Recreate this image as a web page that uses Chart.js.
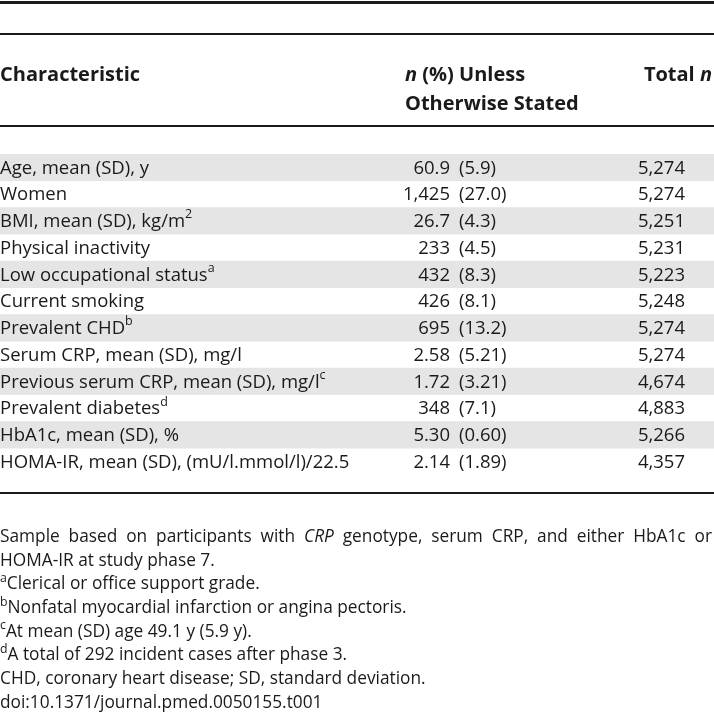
<!DOCTYPE html>
<html lang="en">
<head>
<meta charset="UTF-8">
<title>Characteristics of participants</title>
<script src="https://cdn.jsdelivr.net/npm/chart.js"></script>
<style>
  body { margin: 0; background: #fff; }
</style>
</head>
<body>
<canvas id="chart" width="714" height="713"></canvas>
<script>
// rows of the table, top to bottom
const characteristics = [
  'Age, mean (SD), y', 'Women', 'BMI, mean (SD), kg/m', 'Physical inactivity',
  'Low occupational status', 'Current smoking', 'Prevalent CHD',
  'Serum CRP, mean (SD), mg/l', 'Previous serum CRP, mean (SD), mg/l',
  'Prevalent diabetes', 'HbA1c, mean (SD), %', 'HOMA-IR, mean (SD), (mU/l.mmol/l)/22.5'
];
const superscripts = ['', '', '2', '', 'a', '', 'b', '', 'c', 'd', '', ''];
const estimates = ['60.9', '1,425', '26.7', '233', '432', '426', '695', '2.58', '1.72', '348', '5.30', '2.14'];
const spreads = ['(5.9)', '(27.0)', '(4.3)', '(4.5)', '(8.3)', '(8.1)', '(13.2)', '(5.21)', '(3.21)', '(7.1)', '(0.60)', '(1.89)'];
const totals = ['5,274', '5,274', '5,251', '5,231', '5,223', '5,248', '5,274', '5,274', '4,674', '4,883', '5,266', '4,357'];

// footnotes: ^x = superscript, _text_ = italic
const footnotes = [
  'Sample based on participants with _CRP_ genotype, serum CRP, and either HbA1c or',
  'HOMA-IR at study phase 7.',
  '^aClerical or office support grade.',
  '^bNonfatal myocardial infarction or angina pectoris.',
  '^cAt mean (SD) age 49.1 y (5.9 y).',
  '^dA total of 292 incident cases after phase 3.',
  'CHD, coronary heart disease; SD, standard deviation.',
  'doi:10.1371/journal.pmed.0050155.t001'
];

const FONT = '"Open Sans", "Noto Sans", sans-serif';
const INK = '#1a1a1a';
const HEAD_SIZE = 20, BODY_SIZE = 18.5, NOTE_SIZE = 17.3;

// column anchors in x units (0..714)
const COL_LABEL = 0, COL_EST = 450, COL_SPREAD = 459, COL_HEAD2 = 405, COL_TOTAL = 685, COL_TOTAL_HEAD = 712;

function drawRuns(ctx, runs, x, y, align) {
  let w = 0;
  runs.forEach(r => { ctx.font = r.font; r.w = ctx.measureText(r.t).width; w += r.w; });
  let cx = align === 'right' ? x - w : x;
  runs.forEach(r => {
    ctx.font = r.font;
    ctx.textAlign = 'left';
    ctx.fillText(r.t, cx, y + (r.dy || 0));
    cx += r.w;
  });
}

function parseNote(s, size) {
  const runs = [];
  let rest = s;
  if (rest.startsWith('^')) {
    runs.push({ t: rest[1], font: `${size - 5}px ${FONT}`, dy: -6 });
    rest = rest.slice(2);
  }
  rest.split('_').forEach((part, i) => {
    if (part) runs.push({ t: part, font: `${i % 2 ? 'italic ' : ''}${size}px ${FONT}` });
  });
  return runs;
}

const tablePlugin = {
  id: 'tableText',
  afterDatasetsDraw(chart) {
    const { ctx, scales: { x, y }, chartArea } = chart;
    ctx.save();
    ctx.fillStyle = INK;
    ctx.strokeStyle = INK;
    ctx.textBaseline = 'middle';

    // rules
    const rule = (yy, lw) => {
      ctx.lineWidth = lw;
      ctx.beginPath();
      ctx.moveTo(x.getPixelForValue(0), yy);
      ctx.lineTo(x.getPixelForValue(714), yy);
      ctx.stroke();
    };
    rule(2.5, 3);
    rule(34, 2);
    rule(chartArea.top - 28, 2);
    rule(chartArea.bottom + 18, 2);

    // header
    const b = `bold ${HEAD_SIZE}px ${FONT}`, bi = `italic bold ${HEAD_SIZE}px ${FONT}`;
    drawRuns(ctx, [{ t: 'Characteristic', font: b }], x.getPixelForValue(COL_LABEL), 75, 'left');
    drawRuns(ctx, [{ t: 'n', font: bi }, { t: ' (%) Unless', font: b }], x.getPixelForValue(COL_HEAD2), 75, 'left');
    drawRuns(ctx, [{ t: 'Otherwise Stated', font: b }], x.getPixelForValue(COL_HEAD2), 104, 'left');
    drawRuns(ctx, [{ t: 'Total ', font: b }, { t: 'n', font: bi }], x.getPixelForValue(COL_TOTAL_HEAD), 75, 'right');

    // body cells
    const f = `${BODY_SIZE}px ${FONT}`, sf = `12.5px ${FONT}`;
    characteristics.forEach((label, i) => {
      const yy = y.getPixelForValue(i) + 1;
      const runs = [{ t: label, font: f }];
      if (superscripts[i]) runs.push({ t: superscripts[i], font: sf, dy: -7 });
      drawRuns(ctx, runs, x.getPixelForValue(COL_LABEL), yy, 'left');
      drawRuns(ctx, [{ t: estimates[i], font: f }], x.getPixelForValue(COL_EST), yy, 'right');
      drawRuns(ctx, [{ t: spreads[i], font: f }], x.getPixelForValue(COL_SPREAD), yy, 'left');
      drawRuns(ctx, [{ t: totals[i], font: f }], x.getPixelForValue(COL_TOTAL), yy, 'right');
    });

    // footnotes
    const noteTop = chartArea.bottom + 62, noteStep = 23.7;
    footnotes.forEach((note, i) => {
      const yy = noteTop + i * noteStep;
      const runs = parseNote(note, NOTE_SIZE);
      if (i === 0) {
        // justified first line
        const words = [];
        runs.forEach(r => r.t.split(' ').forEach(wd => { if (wd) words.push({ t: wd, font: r.font }); }));
        let total = 0;
        words.forEach(wd => { ctx.font = wd.font; wd.w = ctx.measureText(wd.t).width; total += wd.w; });
        const gap = (x.getPixelForValue(712) - total) / (words.length - 1);
        let cx = x.getPixelForValue(0);
        words.forEach(wd => { ctx.font = wd.font; ctx.textAlign = 'left'; ctx.fillText(wd.t, cx, yy); cx += wd.w + gap; });
      } else {
        drawRuns(ctx, runs, x.getPixelForValue(0), yy, 'left');
      }
    });
    ctx.restore();
  }
};

new Chart(document.getElementById('chart'), {
  type: 'bar',
  data: {
    labels: characteristics,
    datasets: [{
      label: 'row shading',
      data: characteristics.map((c, i) => i % 2 === 0 ? [0, 714] : null),
      backgroundColor: '#e5e5e5',
      borderWidth: 0,
      barPercentage: 1,
      categoryPercentage: 1
    }]
  },
  options: {
    indexAxis: 'y',
    responsive: false,
    animation: false,
    devicePixelRatio: 1,
    layout: { padding: { top: 154, bottom: 713 - 475, left: 0, right: 0 } },
    plugins: { legend: { display: false }, tooltip: { enabled: false }, title: { display: false } },
    scales: {
      x: { type: 'linear', min: 0, max: 714, display: false },
      y: { type: 'category', display: false }
    }
  },
  plugins: [tablePlugin]
});
</script>
</body>
</html>
